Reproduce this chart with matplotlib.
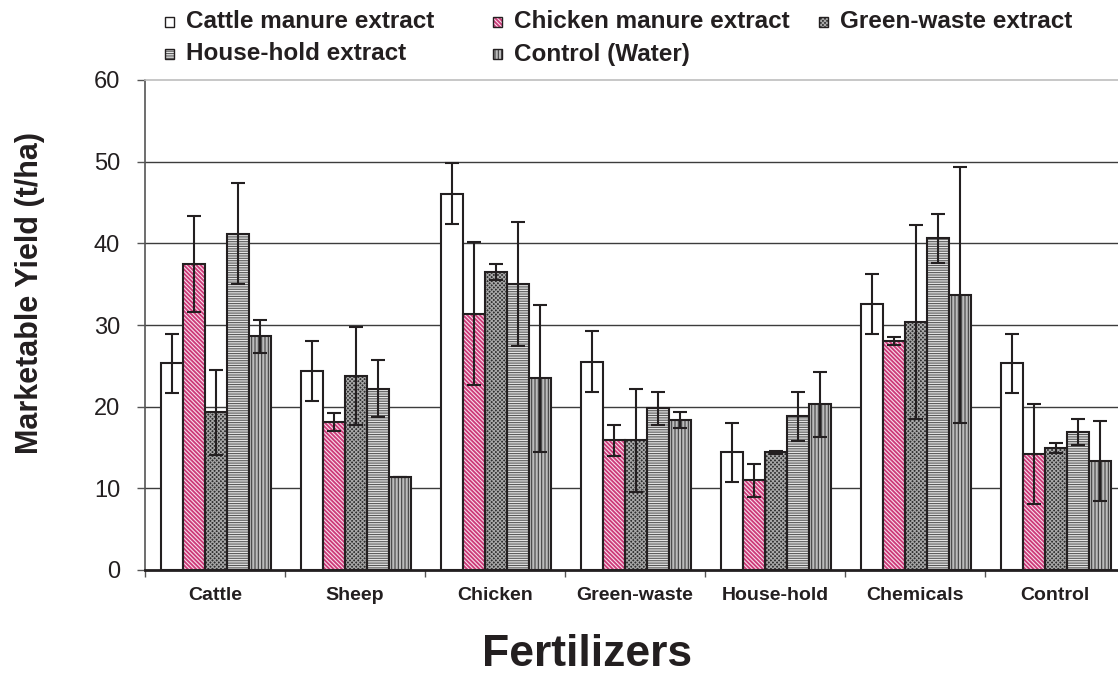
import matplotlib
matplotlib.use("Agg")
import matplotlib.pyplot as plt
from matplotlib.patches import Rectangle
import numpy as np

plt.rcParams["font.family"] = ["Liberation Sans", "DejaVu Sans"]
plt.rcParams["hatch.linewidth"] = 0.8

CATEGORIES = ["Cattle", "Sheep", "Chicken", "Green-waste", "House-hold", "Chemicals", "Control"]
SERIES = ["Cattle manure extract", "Chicken manure extract", "Green-waste extract",
          "House-hold extract", "Control (Water)"]

cattle_ext = [25.3, 24.4, 46.1, 25.5, 14.4, 32.6, 25.3]
cattle_err = [3.6, 3.65, 3.7, 3.75, 3.65, 3.7, 3.65]
chicken_ext = [37.5, 18.1, 31.4, 15.9, 11.0, 28.0, 14.2]
chicken_err = [5.9, 1.1, 8.8, 1.9, 2.0, 0.5, 6.1]
green_ext = [19.3, 23.8, 36.5, 15.9, 14.4, 30.4, 14.9]
green_err = [5.2, 6.0, 1.0, 6.3, 0.2, 11.9, 0.6]
house_ext = [41.2, 22.2, 35.0, 19.8, 18.8, 40.6, 16.9]
house_err = [6.2, 3.5, 7.6, 2.0, 3.0, 3.0, 1.6]
water_ctl = [28.6, 11.4, 23.5, 18.4, 20.3, 33.7, 13.4]
water_err = [2.0, 0.0, 9.0, 1.0, 4.0, 15.7, 4.9]

VALUES = [cattle_ext, chicken_ext, green_ext, house_ext, water_ctl]
ERRORS = [cattle_err, chicken_err, green_err, house_err, water_err]

# (face, hatch, hatch colour) per series
STYLE = [
    ("white",   "",               "white"),
    ("#cc3a78", "\\" * 8,         "#f8dcea"),
    ("#2e2e2e", "x" * 8,          "#a8a8a8"),
    ("#e4e4e4", "-" * 7,          "#5a5a5a"),
    ("#bcbcbc", "|" * 5,          "#404040"),
]
INK = "#231f20"

W, H = 1118, 676
fig = plt.figure(figsize=(W / 100, H / 100), dpi=100)
ax = fig.add_axes([145 / W, 106 / H, 980 / W, 490 / H])

x0 = np.arange(len(CATEGORIES))
bw = 0.157
off = 0.114
for k, (vals, errs) in enumerate(zip(VALUES, ERRORS)):
    face, hatch, hcol = STYLE[k]
    xs = x0 + off + (k + 0.5) * bw
    ax.bar(xs, vals, width=bw, color=face, edgecolor=hcol, hatch=hatch, lw=0, zorder=3)
    ax.bar(xs, vals, width=bw, fill=False, edgecolor=INK, lw=1.5, zorder=4)
    ax.errorbar(xs, vals, yerr=errs, fmt="none", ecolor=INK, elinewidth=1.5,
                capsize=4.7, capthick=1.5, zorder=5)

ax.set_xlim(0, 7)
ax.set_ylim(0, 60)
for y in range(10, 60, 10):
    ax.axhline(y, color="#3c3c3c", lw=1.0, zorder=1)

ax.spines["right"].set_visible(False)
ax.spines["top"].set_color("#bdbdbd")
ax.spines["top"].set_linewidth(1.2)
ax.spines["left"].set_color("#555555")
ax.spines["left"].set_linewidth(1.2)
ax.spines["bottom"].set_color(INK)
ax.spines["bottom"].set_linewidth(2.0)

ax.set_yticks(range(0, 61, 10))
ax.tick_params(axis="y", direction="out", length=6, width=1, color="#555555",
               labelsize=17, pad=12, labelcolor=INK)
ax.set_xticks(x0 + 0.5)
ax.set_xticklabels(CATEGORIES, fontsize=14, fontweight="bold", color=INK)
ax.tick_params(axis="x", which="major", length=0, pad=12)
ax.set_xticks(np.arange(0, 8), minor=True)
ax.tick_params(axis="x", which="minor", direction="out", length=5, width=1, color="#555555")

fig.text(30 / W, 1 - 293 / H, "Marketable Yield (t/ha)", rotation=90, ha="center", va="center",
         fontsize=22, fontweight="bold", color=INK)
fig.text(587 / W, 1 - 675 / H, "Fertilizers", ha="center", va="bottom",
         fontsize=32, fontweight="bold", color=INK)

# legend, laid out by hand
LEG_POS = [(165, 22), (493, 22), (819, 22), (165, 54), (493, 54)]
for k, name in enumerate(SERIES):
    face, hatch, hcol = STYLE[k]
    mx, my = LEG_POS[k]
    s = 9
    fig.patches.append(Rectangle((mx / W, 1 - (my + s / 2) / H), s / W, s / H,
                                 transform=fig.transFigure, facecolor=face, edgecolor=hcol,
                                 hatch=hatch, lw=0))
    fig.patches.append(Rectangle((mx / W, 1 - (my + s / 2) / H), s / W, s / H,
                                 transform=fig.transFigure, fill=False, edgecolor=INK, lw=1.0))
    fig.text((mx + 21) / W, 1 - my / H, name, ha="left", va="center",
             fontsize=17.5, fontweight="bold", color=INK)

fig.savefig("out.png", dpi=100, facecolor="white")
